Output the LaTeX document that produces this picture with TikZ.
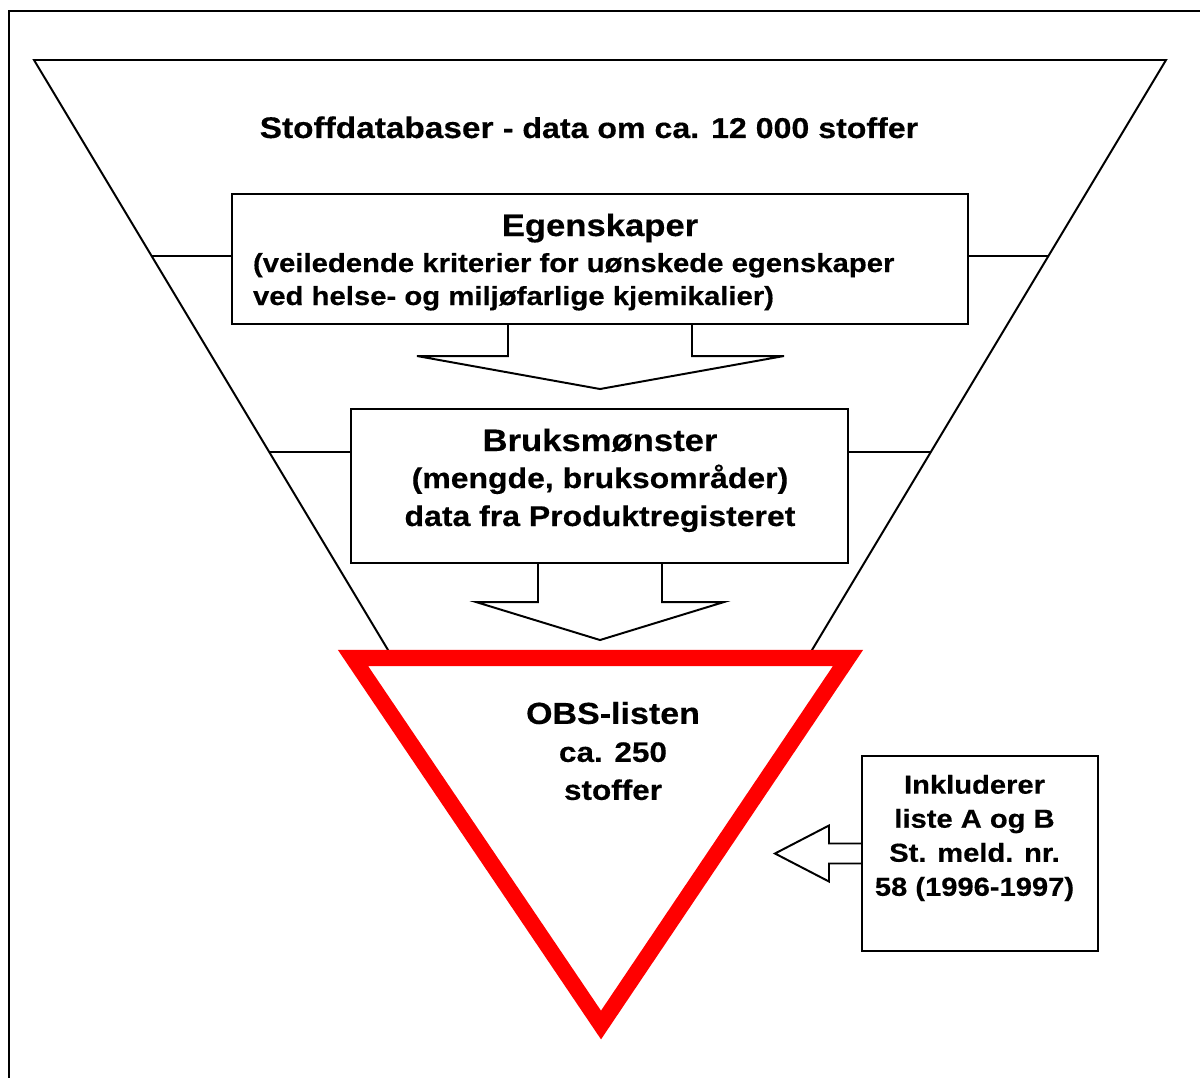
\documentclass[tikz,border=0pt]{standalone}
\usepackage{fontspec}
\setmainfont[FakeStretch=1.12, BoldFeatures={FakeBold=0.4}]{Liberation Sans}
\usetikzlibrary{calc}

\begin{document}
\begin{tikzpicture}[
    x=0.025cm, y=-0.025cm,
    every node/.style={inner sep=0pt, outer sep=0pt},
    lw/.style={line width=1.4pt, line join=miter},
    box/.style={lw, draw, fill=white},
    headtxt/.style={font=\fontsize{22}{26}\selectfont\bfseries},
    bodytxt/.style={font=\fontsize{18.6}{23.5}\selectfont\bfseries},
    bruktxt/.style={font=\fontsize{20.3}{24}\selectfont\bfseries},
    obstxt/.style={font=\fontsize{20}{27}\selectfont\bfseries, align=center},
    incltxt/.style={font=\fontsize{18.5}{24.2}\selectfont\bfseries, align=center},
    redtri/.style={line width=11.4pt, draw=red, fill=white, line join=miter},
]

    \clip (0,0) rectangle (1200,1077);

    % frame, runs out of the page on the right and at the bottom
    \draw[lw] (9,11) rectangle (1250,1130);

    % the big funnel
    \coordinate (tl) at (34,60);
    \coordinate (tr) at (1166,60);
    \coordinate (bot) at (600,1003.3);
    \draw[lw] (tl) -- (tr) -- (bot) -- cycle;

    \node[anchor=base, font=\fontsize{21.2}{26}\selectfont\bfseries] (title) at (589,138)
        {Stoffdatabaser {\fontsize{20.4}{24}\selectfont - data om ca. 12 000 stoffer}};

    % box: Egenskaper
    \node[box, minimum width=18.4cm, minimum height=3.25cm] (egen) at (600,259) {};
    \node[headtxt, anchor=base] (egenT) at (600,236) {Egenskaper};
    \node[bodytxt, anchor=base west] (egenL1) at (253,272) {(veiledende kriterier for uønskede egenskaper};
    \node[bodytxt, anchor=base west] (egenL2) at (253,305) {ved helse- og miljøfarlige kjemikalier)};

    \coordinate (egenl) at ($(tl)!0.2078!(bot)$);
    \coordinate (egenr) at ($(tr)!0.2078!(bot)$);
    \draw[lw] (egenl) -- (egenl -| egen.west);
    \draw[lw] (egenr) -- (egenr -| egen.east);

    % arrow down to Bruksmønster
    \draw[lw] ($(egen.south)+(-92,0)$) -- ++(0,32) -- ++(-91,0) -- ($(egen.south)+(0,65)$)
        -- ($(egen.south)+(184,32)$) -- ++(-92,0) -- ++(0,-32);

    % box: Bruksmønster
    \node[box, minimum width=12.425cm, minimum height=3.85cm] (bruk) at (599.5,486) {};
    \node[headtxt, anchor=base] (brukT) at (600,451) {Bruksmønster};
    \node[bruktxt, anchor=base] (brukL1) at (600,488) {(mengde, bruksområder)};
    \node[bruktxt, anchor=base] (brukL2) at (600,526) {data fra Produktregisteret};

    \coordinate (brukl) at ($(tl)!0.4156!(bot)$);
    \coordinate (brukr) at ($(tr)!0.4156!(bot)$);
    \draw[lw] (brukl) -- (brukl -| bruk.west);
    \draw[lw] (brukr) -- (brukr -| bruk.east);

    % arrow down to the OBS list
    \draw[lw] ($(bruk.south)+(-61.5,0)$) -- ++(0,39) -- ++(-62,0) -- ($(bruk.south)+(0.5,77)$)
        -- ($(bruk.south)+(124.5,39)$) -- ++(-62,0) -- ++(0,-39);

    % red triangle: OBS-listen
    \draw[redtri] (353,658) -- (848,658) -- (601,1025) -- cycle;
    \node[obstxt] (obs) at (613,751) {{\fontsize{21.6}{27}\selectfont OBS-listen}\\ca. 250\\stoffer};

    % box: liste A og B
    \node[box, minimum width=5.9cm, minimum height=4.875cm] (incl) at (980,853.5) {};
    \node[incltxt] (inclT) at (974.5,838) {Inkluderer\\liste A og B\\St. meld. nr.\\58 (1996-1997)};

    \draw[lw] ($(incl.west)+(0,-10)$) -- ++(-33,0) -- ++(0,-18) -- ($(incl.west)+(-87,0)$)
        -- ($(incl.west)+(-33,28)$) -- ++(0,-18) -- ($(incl.west)+(0,10)$);

\end{tikzpicture}
\end{document}
